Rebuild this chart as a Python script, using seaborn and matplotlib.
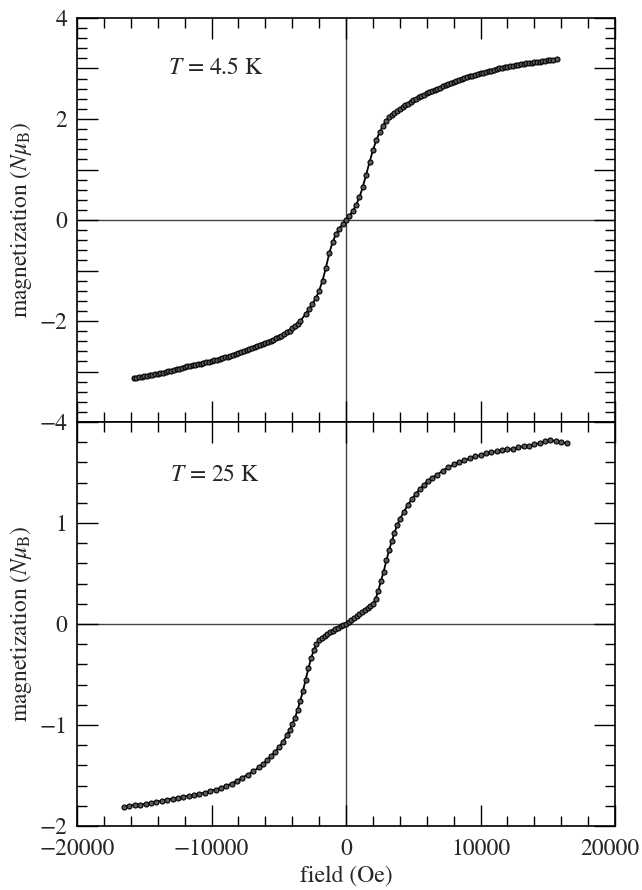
import numpy as np
import pandas as pd
import matplotlib
matplotlib.use('Agg')
import matplotlib.pyplot as plt
import matplotlib.transforms as mtrans
import seaborn as sns
from matplotlib.ticker import MultipleLocator, FuncFormatter

# T = 4.5 K loop, negative field side
h_low_neg = [-15800, -15600, -15400, -15200, -15000, -14800, -14600, -14400, -14200, -14000,
             -13800, -13600, -13400, -13200, -13000, -12800, -12600, -12400, -12200, -12000,
             -11800, -11600, -11400, -11200, -11000, -10800, -10600, -10400, -10200, -10000,
             -9800, -9600, -9400, -9200, -9000, -8800, -8600, -8400, -8200, -8000,
             -7800, -7600, -7400, -7200, -7000, -6800, -6600, -6400, -6200, -6000,
             -5800, -5600, -5400, -5200, -5000, -4800, -4600, -4400, -4200, -4000,
             -3800, -3600, -3400, -3000, -2750, -2500, -2250, -2000, -1750, -1500,
             -1250, -1000, -750, -500, -250]
m_low_neg = [-3.13, -3.12, -3.11, -3.10, -3.09, -3.08, -3.07, -3.06, -3.05, -3.04,
             -3.03, -3.02, -3.01, -2.995, -2.98, -2.965, -2.95, -2.94, -2.93, -2.915,
             -2.90, -2.89, -2.88, -2.87, -2.86, -2.845, -2.83, -2.82, -2.81, -2.795,
             -2.78, -2.765, -2.75, -2.735, -2.72, -2.705, -2.69, -2.67, -2.65, -2.63,
             -2.61, -2.59, -2.57, -2.55, -2.53, -2.51, -2.49, -2.47, -2.45, -2.43,
             -2.41, -2.39, -2.37, -2.345, -2.32, -2.29, -2.26, -2.225, -2.19, -2.145,
             -2.10, -2.05, -2.00, -1.86, -1.76, -1.66, -1.55, -1.40, -1.20, -0.95,
             -0.66, -0.44, -0.28, -0.17, -0.08]
# T = 4.5 K loop, positive field side
h_low_pos = [0, 250, 500, 750, 1000, 1250, 1500, 1750, 2000, 2250,
             2500, 2750, 3000, 3200, 3400, 3600, 3800, 4000, 4200, 4400,
             4600, 4800, 5000, 5200, 5400, 5600, 5800, 6000, 6200, 6400,
             6600, 6800, 7000, 7200, 7400, 7600, 7800, 8000, 8200, 8400,
             8600, 8800, 9000, 9200, 9400, 9600, 9800, 10000, 10200, 10400,
             10600, 10800, 11000, 11200, 11400, 11600, 11800, 12000, 12200, 12400,
             12600, 12800, 13000, 13200, 13400, 13600, 13800, 14000, 14200, 14400,
             14600, 14800, 15000, 15200, 15400, 15650]
m_low_pos = [0.00, 0.08, 0.18, 0.30, 0.45, 0.66, 0.90, 1.15, 1.38, 1.58,
             1.74, 1.87, 1.97, 2.03, 2.08, 2.12, 2.16, 2.20, 2.24, 2.27,
             2.30, 2.34, 2.37, 2.40, 2.43, 2.455, 2.48, 2.505, 2.53, 2.55,
             2.57, 2.595, 2.62, 2.645, 2.67, 2.69, 2.71, 2.73, 2.75, 2.77,
             2.79, 2.81, 2.83, 2.845, 2.86, 2.875, 2.89, 2.905, 2.92, 2.935,
             2.95, 2.96, 2.97, 2.985, 3.00, 3.01, 3.02, 3.03, 3.04, 3.05,
             3.06, 3.07, 3.08, 3.09, 3.10, 3.105, 3.11, 3.12, 3.13, 3.135,
             3.14, 3.15, 3.16, 3.165, 3.17, 3.18]

# T = 25 K loop
h_high = [-16500, -16100, -15700, -15300, -14900, -14500, -14100, -13700, -13300, -12900,
          -12500, -12100, -11700, -11300, -10900, -10500, -10100, -9700, -9300, -8900,
          -8500, -8100, -7700, -7300, -6900, -6500, -6200, -5900, -5600, -5300,
          -5000, -4700, -4400, -4200, -4000, -3800, -3600, -3400, -3200, -3000,
          -2800, -2600, -2400, -2200, -2000, -1800, -1600, -1400, -1200, -1000,
          -800, -600, -400, -200,
          0, 200, 400, 600, 800, 1000, 1200, 1400, 1600, 1800,
          2000, 2200, 2400, 2600, 2800, 3000, 3200, 3400, 3600, 3800,
          4000, 4300, 4600, 4900, 5200, 5500, 5800, 6100, 6400, 6800,
          7200, 7600, 8000, 8400, 8800, 9200, 9600, 10000, 10400, 10800,
          11200, 11600, 12000, 12400, 12800, 13200, 13600, 14000, 14400, 14800,
          15200, 15600, 16000, 16400]
m_high = [-1.81, -1.80, -1.79, -1.79, -1.78, -1.77, -1.76, -1.75, -1.74, -1.73,
          -1.72, -1.71, -1.70, -1.69, -1.68, -1.67, -1.65, -1.64, -1.62, -1.60,
          -1.58, -1.55, -1.52, -1.49, -1.46, -1.42, -1.39, -1.35, -1.31, -1.27,
          -1.22, -1.17, -1.10, -1.05, -0.99, -0.93, -0.85, -0.76, -0.66, -0.55,
          -0.44, -0.34, -0.26, -0.20, -0.16, -0.14, -0.12, -0.10, -0.08, -0.07,
          -0.05, -0.04, -0.02, -0.01,
          0.00, 0.02, 0.04, 0.06, 0.08, 0.10, 0.12, 0.14, 0.16, 0.18,
          0.20, 0.25, 0.33, 0.43, 0.52, 0.63, 0.73, 0.82, 0.90, 0.98,
          1.04, 1.11, 1.18, 1.24, 1.29, 1.34, 1.38, 1.42, 1.45, 1.48,
          1.52, 1.55, 1.58, 1.60, 1.62, 1.64, 1.66, 1.67, 1.69, 1.70,
          1.71, 1.72, 1.73, 1.73, 1.75, 1.76, 1.76, 1.78, 1.79, 1.81,
          1.82, 1.81, 1.80, 1.79]

h_low = h_low_neg + h_low_pos
m_low = m_low_neg + m_low_pos

sns.set_style('ticks')
plt.rcParams['font.family'] = ['STIXGeneral', 'DejaVu Serif']
plt.rcParams['mathtext.fontset'] = 'stix'
plt.rcParams['font.size'] = 17

fig = plt.figure(figsize=(6.42, 8.9), dpi=100)
ax1 = fig.add_axes([0.12, 0.5258, 0.838, 0.4540])
ax2 = fig.add_axes([0.12, 0.0719, 0.838, 0.4539], sharex=ax1)

style = dict(color='k', lw=1.3, marker='o', markersize=3.6, markerfacecolor='#5a5a5a',
             markeredgecolor='k', markeredgewidth=0.8, sort=False, estimator=None)
sns.lineplot(x=h_low, y=m_low, ax=ax1, **style)
sns.lineplot(x=h_high, y=m_high, ax=ax2, **style)

for ax in (ax1, ax2):
    ax.axhline(0, color='#444444', lw=1.0, zorder=0)
    ax.axvline(0, color='#444444', lw=1.0, zorder=0)
    ax.set_xlim(-20000, 20000)
    ax.xaxis.set_major_locator(MultipleLocator(10000))
    ax.xaxis.set_minor_locator(MultipleLocator(2000))
    ax.tick_params(which='both', direction='in', top=True, right=True, width=1.0,
                   labelsize=17, color='k')
    ax.tick_params(which='major', length=15)
    ax.tick_params(which='minor', length=7.5)
    ax.tick_params(axis='x', pad=9)
    ax.tick_params(axis='y', pad=7)
    for s in ax.spines.values():
        s.set_linewidth(1.2)
        s.set_color('k')

ax1.set_ylim(-4, 4)
ax1.yaxis.set_major_locator(MultipleLocator(1))
ax1.yaxis.set_minor_locator(MultipleLocator(0.2))
ax1.yaxis.set_major_formatter(FuncFormatter(
    lambda v, p: '' if round(v) % 2 else f'{int(round(v))}'.replace('-', '\u2212')))
ax1.tick_params(axis='x', labelbottom=False)

ax2.set_ylim(-2, 2)
ax2.yaxis.set_major_locator(MultipleLocator(1))
ax2.yaxis.set_minor_locator(MultipleLocator(0.2))
ax2.yaxis.set_major_formatter(FuncFormatter(
    lambda v, p: '' if round(v) == 2 else f'{int(round(v))}'.replace('-', '\u2212')))
ax2.xaxis.set_major_formatter(FuncFormatter(
    lambda v, p: f'{int(round(v))}'.replace('-', '\u2212')))

ax1.set_xlabel('')
ax1.set_ylabel(r'magnetization ($N\mu_{\rm B}$)', fontsize=17, labelpad=4)
ax2.set_ylabel(r'magnetization ($N\mu_{\rm B}$)', fontsize=17, labelpad=4)
ax2.set_xlabel('field (Oe)', fontsize=17, labelpad=4)

ax1.text(-13200, 3.0, r'$T$ = 4.5 K', fontsize=17, va='center', ha='left')
ax2.text(-13100, 1.47, r'$T$ = 25 K', fontsize=17, va='center', ha='left')

# nudge the rightmost field label a little left so it stays on the canvas
fig.canvas.draw()
for lab in ax2.get_xticklabels():
    if lab.get_text() == '20000':
        lab.set_transform(lab.get_transform() + mtrans.ScaledTranslation(-0.05, 0, fig.dpi_scale_trans))

fig.savefig('out.png', dpi=100)
